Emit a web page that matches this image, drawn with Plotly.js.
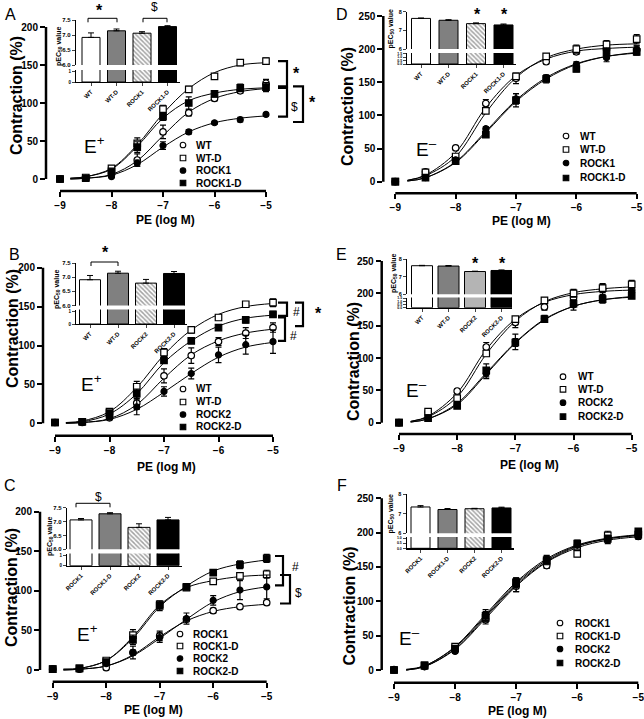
<!DOCTYPE html>
<html><head><meta charset="utf-8">
<script src="https://cdn.plot.ly/plotly-3.0.1.min.js"></script>
<style>html,body{margin:0;padding:0;background:#fff}</style>
</head><body><div id="chart" style="width:644px;height:719px"></div>
<script>
// ---------- DATA ----------
const doses = [-9, -8.5, -8, -7.5, -7, -6.5, -6, -5.5, -5];
const fitDoses = [-8.8, -8.5, -8, -7.5, -7, -6.5, -6, -5.5, -5];

// Panel A (E+) WT vs ROCK1
const A_names = ["WT", "WT-D", "ROCK1", "ROCK1-D"];
const A_WT = [0, 1, 7, 25, 62, 87, 106, 116, 126];
const A_WTD = [0, 2, 14, 47, 92, 118, 135, 153, 155];
const A_R1 = [0, 1, 3, 21, 44, 62, 74, 78, 85];
const A_R1D = [0, 1, 10, 42, 82, 100, 112, 120, 121];
const A_WT_err = [0, 1, 1, 8, 9, 4, 3, 3, 5];
const A_WTD_err = [0, 1, 2, 7, 5, 4, 3, 4, 4];
const A_R1_err = [0, 1, 1, 4, 5, 3, 2, 3, 2];
const A_R1D_err = [0, 1, 2, 7, 5, 8, 4, 5, 6];
const A_WT_fit = [0, 1, 6, 24, 57, 88, 106, 115, 119];
const A_WTD_fit = [1, 3, 14, 45, 86, 119, 140, 150, 153];
const A_R1_fit = [0, 1, 5, 19, 42, 62, 74, 80, 83];
const A_R1D_fit = [1, 3, 13, 43, 80, 103, 113, 118, 120];
const A_bar_cats = ["WT", "WT-D", "ROCK1", "ROCK1-D"];
const A_bar_vals = [6.92, 7.14, 7.06, 7.28];
const A_bar_errs = [0.15, 0.06, 0.05, 0.03];

// Panel B (E+) WT vs ROCK2
const B_names = ["WT", "WT-D", "ROCK2", "ROCK2-D"];
const B_WT = [1, 1, 7, 26, 61, 87, 105, 116, 123];
const B_WTD = [1, 2, 15, 47, 91, 120, 136, 153, 155];
const B_R2 = [1, 1, 8, 21, 41, 64, 88, 101, 105];
const B_R2D = [1, 2, 13, 38, 81, 106, 123, 133, 140];
const B_WT_err = [0, 1, 2, 8, 9, 10, 5, 7, 6];
const B_WTD_err = [0, 1, 2, 7, 5, 4, 3, 3, 5];
const B_R2_err = [0, 1, 2, 10, 6, 7, 10, 12, 15];
const B_R2D_err = [0, 1, 2, 6, 4, 3, 3, 4, 4];
const B_WT_fit = [0, 1, 6, 24, 58, 88, 106, 116, 121];
const B_WTD_fit = [1, 3, 15, 46, 88, 120, 140, 150, 154];
const B_R2_fit = [0, 1, 5, 18, 40, 64, 85, 98, 104];
const B_R2D_fit = [1, 2, 12, 38, 78, 106, 125, 135, 139];
const B_bar_cats = ["WT", "WT-D", "ROCK2", "ROCK2-D"];
const B_bar_vals = [6.91, 7.14, 6.79, 7.13];
const B_bar_errs = [0.15, 0.07, 0.13, 0.07];

// Panel C (E+) ROCK1 vs ROCK2
const C_names = ["ROCK1", "ROCK1-D", "ROCK2", "ROCK2-D"];
const C_R1 = [1, 1, 3, 22, 43, 64, 75, 80, 85];
const C_R1D = [1, 2, 12, 44, 83, 104, 112, 119, 121];
const C_R2 = [1, 1, 8, 22, 41, 65, 88, 101, 105];
const C_R2D = [1, 2, 10, 38, 81, 105, 123, 133, 141];
const C_R1_err = [0, 1, 1, 3, 6, 3, 3, 2, 2];
const C_R1D_err = [0, 1, 2, 7, 4, 3, 3, 4, 5];
const C_R2_err = [0, 1, 2, 8, 6, 7, 6, 12, 15];
const C_R2D_err = [0, 1, 2, 6, 6, 3, 3, 5, 5];
const C_R1_fit = [0, 1, 5, 19, 42, 62, 74, 80, 83];
const C_R1D_fit = [1, 2, 12, 42, 82, 104, 113, 118, 120];
const C_R2_fit = [0, 1, 5, 18, 40, 64, 86, 99, 105];
const C_R2D_fit = [1, 2, 12, 40, 80, 106, 125, 134, 139];
const C_bar_cats = ["ROCK1", "ROCK1-D", "ROCK2", "ROCK2-D"];
const C_bar_vals = [7.06, 7.28, 6.79, 7.06];
const C_bar_errs = [0.05, 0.04, 0.13, 0.09];

// Panel D (E-) WT vs ROCK1
const D_names = ["WT", "WT-D", "ROCK1", "ROCK1-D"];
const D_WT = [0, 15, 51, 118, 156, 181, 196, 200, 199];
const D_WTD = [0, 14, 38, 107, 159, 189, 200, 207, 215];
const D_R1 = [0, 6, 33, 80, 125, 157, 177, 187, 199];
const D_R1D = [0, 6, 31, 71, 123, 155, 170, 195, 196];
const D_WT_err = [0, 1, 2, 6, 8, 3, 4, 6, 6];
const D_WTD_err = [0, 1, 2, 4, 4, 4, 6, 6, 7];
const D_R1_err = [0, 1, 2, 3, 8, 4, 4, 6, 6];
const D_R1D_err = [0, 1, 2, 3, 10, 6, 4, 5, 5];
const D_WT_fit = [2, 10, 44, 112, 160, 185, 197, 201, 203];
const D_WTD_fit = [2, 9, 38, 104, 157, 187, 200, 206, 208];
const D_R1_fit = [1, 6, 30, 76, 123, 157, 178, 189, 194];
const D_R1D_fit = [1, 6, 29, 74, 121, 155, 177, 189, 195];
const D_bar_cats = ["WT", "WT-D", "ROCK1", "ROCK1-D"];
const D_bar_vals = [7.64, 7.54, 7.36, 7.29];
const D_bar_errs = [0.02, 0.03, 0.04, 0.05];

// Panel E (E-) WT vs ROCK2
const E_names = ["WT", "WT-D", "ROCK2", "ROCK2-D"];
const E_WT = [0, 16, 49, 117, 155, 179, 193, 206, 205];
const E_WTD = [0, 17, 38, 107, 160, 189, 200, 208, 214];
const E_R2 = [0, 7, 27, 76, 125, 161, 182, 191, 203];
const E_R2D = [0, 7, 26, 81, 124, 160, 184, 191, 196];
const E_WT_err = [0, 1, 3, 7, 8, 5, 4, 8, 6];
const E_WTD_err = [0, 1, 3, 4, 4, 4, 6, 7, 6];
const E_R2_err = [0, 1, 3, 8, 12, 5, 8, 6, 6];
const E_R2D_err = [0, 1, 3, 10, 6, 5, 5, 5, 4];
const E_WT_fit = [2, 10, 46, 113, 160, 186, 198, 203, 205];
const E_WTD_fit = [2, 9, 40, 106, 157, 187, 201, 207, 210];
const E_R2_fit = [1, 6, 30, 77, 124, 160, 180, 190, 195];
const E_R2D_fit = [1, 6, 28, 75, 123, 159, 180, 190, 194];
const E_bar_cats = ["WT", "WT-D", "ROCK2", "ROCK2-D"];
const E_bar_vals = [7.62, 7.6, 7.29, 7.35];
const E_bar_errs = [0.02, 0.03, 0.02, 0.03];

// Panel F (E-) ROCK1 vs ROCK2
const F_names = ["ROCK1", "ROCK1-D", "ROCK2", "ROCK2-D"];
const F_R1 = [0, 5, 30, 73, 122, 152, 177, 192, 196];
const F_R1D = [0, 6, 34, 76, 127, 158, 169, 196, 197];
const F_R2 = [1, 5, 27, 80, 124, 162, 182, 190, 194];
const F_R2D = [0, 7, 31, 79, 128, 160, 184, 191, 202];
const F_R1_err = [0, 1, 3, 6, 8, 4, 6, 5, 4];
const F_R1D_err = [0, 1, 3, 6, 6, 4, 4, 6, 4];
const F_R2_err = [0, 1, 3, 8, 10, 5, 6, 6, 4];
const F_R2D_err = [0, 1, 3, 6, 6, 6, 5, 5, 4];
const F_R1_fit = [0, 5, 30, 75, 122, 157, 178, 189, 194];
const F_R1D_fit = [0, 5, 31, 77, 124, 158, 180, 191, 196];
const F_R2_fit = [0, 6, 33, 79, 126, 160, 181, 191, 196];
const F_R2D_fit = [1, 6, 34, 81, 128, 162, 182, 192, 197];
const F_bar_cats = ["ROCK1", "ROCK1-D", "ROCK2", "ROCK2-D"];
const F_bar_vals = [7.35, 7.22, 7.26, 7.3];
const F_bar_errs = [0.07, 0.05, 0.02, 0.04];

const xTickVals = [-9, -8, -7, -6, -5];

// ---------- BUILD ----------
const W = 644, H = 719;
const FONT = 'Liberation Sans, Arial, sans-serif';
const px = v => v / W, py = v => 1 - v / H;
const traces = [], shapes = [], annotations = [];
const layout = {
  width: W, height: H, margin: {l: 0, r: 0, t: 0, b: 0},
  paper_bgcolor: '#fff', plot_bgcolor: 'rgba(0,0,0,0)', showlegend: false,
  font: {family: FONT, color: '#000'}, shapes: shapes, annotations: annotations
};
const STY = [
  {symbol: 'circle', color: '#fff', size: 6.5},
  {symbol: 'square', color: '#fff', size: 6.5},
  {symbol: 'circle', color: '#000', size: 6},
  {symbol: 'square', color: '#000', size: 6.5}
];
let xc = 0, yc = 0;
const nm = k => (k === 1 ? '' : String(k));
function txt(x, y, text, size, opts) {
  annotations.push(Object.assign({xref: 'paper', yref: 'paper', x: px(x), y: py(y), text: text,
    showarrow: false, xanchor: 'center', yanchor: 'middle',
    font: {family: FONT, size: size, color: '#000'}}, opts || {}));
}

function mainPanel(g, names, vals, errs, fits, ymaxTicks) {
  xc++; yc++;
  const xid = 'x' + nm(xc), yid = 'y' + nm(yc);
  const xs = (g.xm5 - g.xm9) / 4, ys = (g.y0 - g.ytop) / g.ymax;
  g.xid = xid; g.yid = yid; g.xs = xs; g.ys = ys;
  const tf = {family: FONT, size: 10, weight: 'bold', color: '#000'};
  layout['xaxis' + nm(xc)] = {
    domain: [px(g.left), px(g.right)],
    range: [-9 - (g.xm9 - g.left) / xs, -9 + (g.right - g.xm9) / xs],
    anchor: yid, tickvals: xTickVals, ticks: 'outside', ticklen: 5, tickwidth: 2, tickcolor: '#000',
    showline: false, showgrid: false, zeroline: false, tickfont: tf, ticklabeloverflow: 'allow'
  };
  layout['yaxis' + nm(yc)] = {
    domain: [py(g.bottom), py(g.top)],
    range: [-(g.bottom - g.y0) / ys, (g.y0 - g.top) / ys],
    anchor: xid, tickvals: ymaxTicks, ticks: 'outside', ticklen: 5, tickwidth: 2, tickcolor: '#000',
    showline: false, showgrid: false, zeroline: false, tickfont: tf, ticklabeloverflow: 'allow'
  };
  shapes.push({type: 'line', xref: 'paper', yref: yid, x0: px(g.left), x1: px(g.left), y0: 0, y1: g.ymax,
    line: {color: '#000', width: 2.5}});
  shapes.push({type: 'line', xref: xid, yref: 'paper', x0: -9, x1: -5, y0: py(g.bottom), y1: py(g.bottom),
    line: {color: '#000', width: 2.5}});
  for (let i = 0; i < 4; i++) {
    traces.push({x: fitDoses, y: fits[i], xaxis: xid, yaxis: yid, mode: 'lines', name: names[i] + ' fit',
      line: {color: '#000', width: 1, shape: 'spline', smoothing: 1}, hoverinfo: 'skip'});
  }
  for (let i = 0; i < 4; i++) {
    traces.push({x: doses, y: vals[i], xaxis: xid, yaxis: yid, mode: 'markers', name: names[i], cliponaxis: false,
      marker: {symbol: STY[i].symbol, size: STY[i].size, color: STY[i].color, line: {color: '#000', width: 1.2}},
      error_y: {type: 'data', array: errs[i], visible: true, color: '#000', thickness: 1.2, width: 3}});
  }
  // legend (manual)
  for (let i = 0; i < 4; i++) {
    const cy = g.leg.rows[i], cx = g.leg.mx, r = 2.8;
    shapes.push({type: i % 2 === 0 ? 'circle' : 'rect', xref: 'paper', yref: 'paper',
      x0: px(cx - r), x1: px(cx + r), y0: py(cy + r), y1: py(cy - r),
      fillcolor: STY[i].color, line: {color: '#000', width: 1.1}});
    txt(g.leg.tx, cy, names[i], 10, {xanchor: 'left', font: {family: FONT, size: 10, weight: 'bold', color: '#000'}});
  }
  txt(g.xt[0], g.xt[1], 'PE (log M)', 12, {font: {family: FONT, size: 12, weight: 'bold', color: '#000'}});
  txt(g.yt[0], g.yt[1], 'Contraction (%)', 16, {textangle: -90, font: {family: FONT, size: 16, weight: 'bold', color: '#000'}});
  txt(g.letter[0], g.letter[1], g.letter[2], 16);
  txt(g.e[0], g.e[1], g.e[2], 19, {xanchor: 'left'});
}
function dx(g, p) { return -9 + (p - g.xm9) / g.xs; }
function bracket(g, xpx, armpx, v1, v2) {
  const xr = dx(g, xpx), xl = dx(g, xpx - armpx);
  shapes.push({type: 'path', xref: g.xid, yref: g.yid,
    path: `M${xl},${v1} L${xr},${v1} L${xr},${v2} L${xl},${v2}`, line: {color: '#000', width: 2.2}});
}

function inset(g, cats, vals, errs, colors, pats) {
  xc++;
  const xid = 'x' + nm(xc);
  const yTop = 'y' + nm(++yc);
  const yBot = 'y' + nm(++yc);
  const tf = {family: FONT, size: g.tfs, weight: 'bold', color: '#000'};
  layout['xaxis' + nm(xc)] = {
    domain: [px(g.left), px(g.right)], type: 'category',
    range: [(g.left - g.c0) / g.dx, (g.right - g.c0) / g.dx], anchor: yBot,
    tickangle: -45, ticks: 'outside', ticklen: 3, tickwidth: 1, showline: true, linewidth: 1.2, linecolor: '#000',
    showgrid: false, zeroline: false, tickfont: {family: FONT, size: 6, weight: 'bold', color: '#000'}
  };
  layout['yaxis' + yTop.slice(1)] = {
    domain: [py(g.tBot), py(g.tTop)], range: g.tRange, anchor: xid, tickvals: g.tTicks, ticktext: g.tText,
    ticks: 'outside', ticklen: 3, tickwidth: 1, showline: true, linewidth: 1.2, linecolor: '#000',
    showgrid: false, zeroline: false, tickfont: tf
  };
  layout['yaxis' + yBot.slice(1)] = {
    domain: [py(g.bBot), py(g.bTop)], range: g.bRange, anchor: xid, tickvals: g.bTicks, ticktext: g.bText,
    ticks: 'outside', ticklen: 3, tickwidth: 1, showline: true, linewidth: 1.2, linecolor: '#000',
    showgrid: false, zeroline: false, tickfont: {family: FONT, size: g.bfs, weight: 'bold', color: '#000'}
  };
  const mk = {color: colors, line: {color: '#000', width: 1},
    pattern: {shape: pats, fgcolor: '#222', size: 3.2, solidity: 0.45, fillmode: 'overlay'}};
  const w = g.bw / g.dx;
  traces.push({type: 'bar', x: cats, y: vals, xaxis: xid, yaxis: yTop, width: w, marker: mk, name: 'pEC50',
    error_y: {type: 'data', symmetric: false, array: errs, arrayminus: errs.map(() => 0), color: '#000', thickness: 1, width: 3}});
  traces.push({type: 'bar', x: cats, y: vals, xaxis: xid, yaxis: yBot, width: w, marker: mk, name: 'pEC50 base', hoverinfo: 'skip'});
  txt(g.lbl[0], g.lbl[1], 'pEC<sub>50</sub> value', 7, {textangle: -90, font: {family: FONT, size: 7, weight: 'bold', color: '#000'}});
}
function ibracket(x1, x2, y, drop) {
  shapes.push({type: 'path', xref: 'paper', yref: 'paper',
    path: `M${px(x1)},${py(y + drop)} L${px(x1)},${py(y)} L${px(x2)},${py(y)} L${px(x2)},${py(y + drop)}`,
    line: {color: '#000', width: 1}});
}

const fillsWR = ['#fff', '#808080', '#fff', '#000'];
const patsWR = ['', '', '\\', ''];

// ---- geometry (pixel positions) ----
const gA = {left: 46, right: 322, top: 14, bottom: 191, xm9: 60, xm5: 266, y0: 179, ytop: 27, ymax: 200,
  leg: {mx: 183, tx: 194, rows: [145, 158, 170.5, 183]}, xt: [165, 220], yt: [16, 96], letter: [10, 15, 'A'], e: [82, 145, 'E<sup>+</sup>']};
const gB = {left: 43, right: 322, top: 256, bottom: 435.7, xm9: 55, xm5: 273, y0: 423.3, ytop: 267.7, ymax: 200,
  leg: {mx: 183, tx: 194, rows: [389, 402, 414.5, 427]}, xt: [166, 467], yt: [13, 329], letter: [14, 255, 'B'], e: [79, 383, 'E<sup>+</sup>']};
const gC = {left: 40, right: 322, top: 500, bottom: 681.7, xm9: 52.7, xm5: 266.7, y0: 670, ytop: 511.7, ymax: 200,
  leg: {mx: 180, tx: 191, rows: [634, 646, 658.5, 671]}, xt: [153, 710], yt: [11, 588], letter: [10, 485, 'C'], e: [75, 633, 'E<sup>+</sup>']};
const gD = {left: 383.3, right: 643, top: 8, bottom: 193.3, xm9: 395.3, xm5: 636.7, y0: 181.7, ytop: 16, ymax: 250,
  leg: {mx: 566, tx: 578, rows: [136, 149.5, 163, 178]}, xt: [521, 221], yt: [347, 107], letter: [342, 15, 'D'], e: [414, 148, 'E<sup>–</sup>']};
const gE = {left: 381.7, right: 643, top: 252, bottom: 434, xm9: 399, xm5: 631.7, y0: 422.7, ytop: 261, ymax: 250,
  leg: {mx: 563, tx: 576, rows: [376.7, 389.3, 402.7, 416.7]}, xt: [529, 465], yt: [353, 362], letter: [342, 255, 'E'], e: [404, 389, 'E<sup>–</sup>']};
const gF = {left: 381.7, right: 643, top: 488, bottom: 682.7, xm9: 394, xm5: 638.3, y0: 670, ytop: 498.3, ymax: 250,
  leg: {mx: 560, tx: 573, rows: [623, 636, 649, 663]}, xt: [517, 710.5], yt: [348.5, 606], letter: [342, 485, 'F'], e: [397, 637, 'E<sup>–</sup>']};

const t200 = [0, 50, 100, 150, 200], t250 = [0, 50, 100, 150, 200, 250];
mainPanel(gA, A_names, [A_WT, A_WTD, A_R1, A_R1D], [A_WT_err, A_WTD_err, A_R1_err, A_R1D_err], [A_WT_fit, A_WTD_fit, A_R1_fit, A_R1D_fit], t200);
mainPanel(gB, B_names, [B_WT, B_WTD, B_R2, B_R2D], [B_WT_err, B_WTD_err, B_R2_err, B_R2D_err], [B_WT_fit, B_WTD_fit, B_R2_fit, B_R2D_fit], t200);
mainPanel(gC, C_names, [C_R1, C_R1D, C_R2, C_R2D], [C_R1_err, C_R1D_err, C_R2_err, C_R2D_err], [C_R1_fit, C_R1D_fit, C_R2_fit, C_R2D_fit], t200);
mainPanel(gD, D_names, [D_WT, D_WTD, D_R1, D_R1D], [D_WT_err, D_WTD_err, D_R1_err, D_R1D_err], [D_WT_fit, D_WTD_fit, D_R1_fit, D_R1D_fit], t250);
mainPanel(gE, E_names, [E_WT, E_WTD, E_R2, E_R2D], [E_WT_err, E_WTD_err, E_R2_err, E_R2D_err], [E_WT_fit, E_WTD_fit, E_R2_fit, E_R2D_fit], t250);
mainPanel(gF, F_names, [F_R1, F_R1D, F_R2, F_R2D], [F_R1_err, F_R1D_err, F_R2_err, F_R2D_err], [F_R1_fit, F_R1D_fit, F_R2_fit, F_R2D_fit], t250);

// significance brackets on main plots
const starF = {font: {family: FONT, size: 16, weight: 'bold', color: '#000'}};
const symF = {font: {family: FONT, size: 12, color: '#000'}};
bracket(gA, 287, 9, 155, 122); txt(296, 73, '*', 16, starF);
bracket(gA, 287, 9, 120, 82); txt(294, 107, '$', 12, symF);
bracket(gA, 303, 10, 122, 75); txt(312, 103, '*', 16, starF);
bracket(gB, 287, 9, 155, 138); txt(296, 312, '#', 12, symF);
bracket(gB, 285, 7, 136, 106); txt(293, 336, '#', 12, symF);
bracket(gB, 303, 8, 155, 125); txt(318, 313, '*', 16, starF);
bracket(gC, 283, 8, 144, 107); txt(295, 567, '#', 12, symF);
bracket(gC, 290, 10, 120, 84); txt(298, 593, '$', 12, symF);

// insets
const ttA = {tRange: [6, 7.5], tTicks: [6, 6.5, 7, 7.5], tText: ['6.0', '6.5', '7.0', '7.5'], bRange: [0, 1.15], bTicks: [0, 1], bText: ['0', '1'], tfs: 6, bfs: 4.5};
const ttD = {tRange: [6, 8], tTicks: [6, 7, 8], tText: ['6', '7', '8'], bRange: [0, 1.6], bTicks: [0, 0.5, 1, 1.5], bText: ['0.0', '0.5', '1.0', '1.5'], tfs: 5.5, bfs: 3.5};
inset(Object.assign({left: 76, right: 180, c0: 91, dx: 25.5, bw: 18, tTop: 20, tBot: 65, bTop: 70, bBot: 82, lbl: [59, 47]}, ttA),
  A_bar_cats, A_bar_vals, A_bar_errs, fillsWR, patsWR);
inset(Object.assign({left: 76, right: 187, c0: 90, dx: 28, bw: 21, tTop: 263, tBot: 305.5, bTop: 309.5, bBot: 324, lbl: [57, 290]}, ttA),
  B_bar_cats, B_bar_vals, B_bar_errs, fillsWR, patsWR);
inset(Object.assign({left: 67, right: 182, c0: 81, dx: 29, bw: 22, tTop: 507.7, tBot: 549.3, bTop: 553.5, bBot: 565.7, lbl: [50, 536]}, ttA),
  C_bar_cats, C_bar_vals, C_bar_errs, fillsWR, patsWR);
inset(Object.assign({left: 407, right: 516, c0: 421, dx: 27.5, bw: 19, tTop: 11.7, tBot: 49, bTop: 53, bBot: 64, lbl: [390.5, 29]}, ttD),
  D_bar_cats, D_bar_vals, D_bar_errs, fillsWR, patsWR);
inset(Object.assign({left: 407, right: 512, c0: 422, dx: 26.5, bw: 21, tTop: 259, tBot: 294.3, bTop: 297.5, bBot: 307.7, lbl: [394, 274]}, ttD),
  E_bar_cats, E_bar_vals, E_bar_errs, ['#fff', '#808080', '#b4b4b4', '#000'], ['', '', '', '']);
inset(Object.assign({left: 406.7, right: 514, c0: 420.5, dx: 27, bw: 19, tTop: 494.3, tBot: 533.3, bTop: 537, bBot: 548.3, lbl: [390.5, 514]},
  ttD, {bRange: [0, 1.1], bTicks: [0, 0.5, 1], bText: ['0.0', '0.5', '1.0']}),
  F_bar_cats, F_bar_vals, F_bar_errs, fillsWR, patsWR);

// inset significance marks
ibracket(88, 117, 18.3, 4); txt(100, 10, '*', 16, starF);
ibracket(143, 167, 18.3, 4); txt(154, 7, '$', 11, symF);
ibracket(91, 118, 262, 4); txt(105, 253, '*', 16, starF);
ibracket(76, 110, 503.3, 4); txt(98, 497, '$', 11, symF);
txt(477, 15, '*', 16, starF); txt(504, 15, '*', 16, starF);
txt(476, 263, '*', 16, starF); txt(502, 263, '*', 16, starF);

Plotly.newPlot('chart', traces, layout, {staticPlot: true, displayModeBar: false});
</script>
</body></html>
